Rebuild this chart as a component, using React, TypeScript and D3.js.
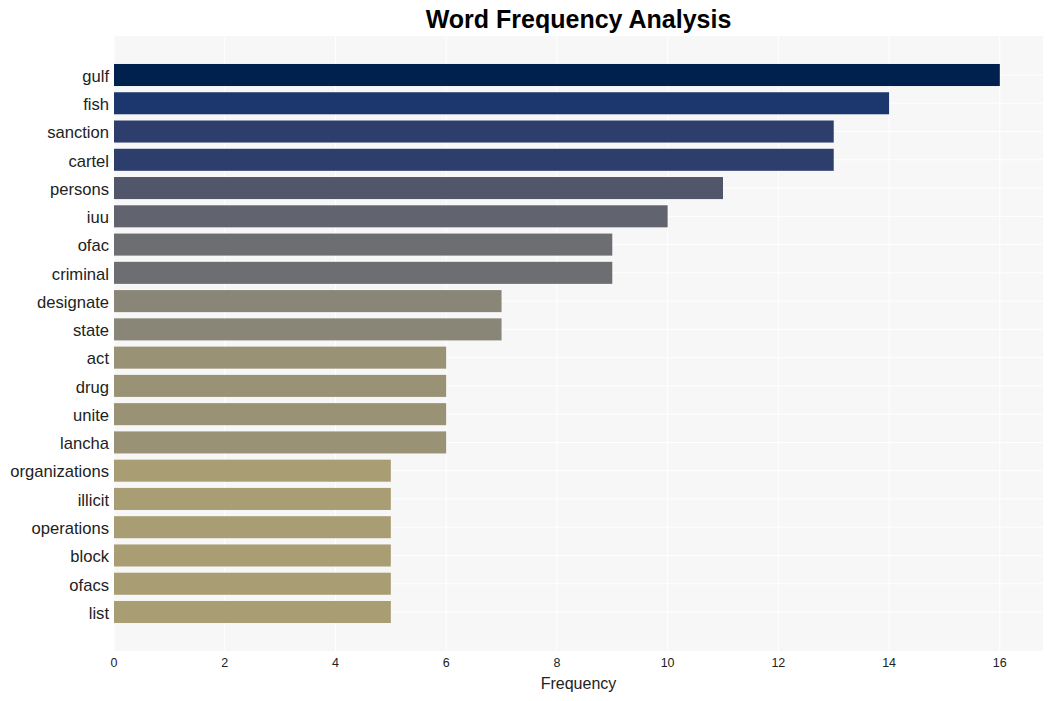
import React from "react";
import * as d3 from "d3";

const words = ["gulf","fish","sanction","cartel","persons","iuu","ofac","criminal","designate","state","act","drug","unite","lancha","organizations","illicit","operations","block","ofacs","list"];
const counts = [16,14,13,13,11,10,9,9,7,7,6,6,6,6,5,5,5,5,5,5];
const xTicks = [0,2,4,6,8,10,12,14,16];

const W = 1053, H = 701;
const M = { left: 114, right: 1043, top: 36, bottom: 651 };

export default function App() {
  const x = d3.scaleLinear().domain([0, 16.78]).range([M.left, M.right]);
  const y = d3.scaleLinear().domain([-1.38, 20.38]).range([M.top, M.bottom]);
  const step = y(1) - y(0);
  const bh = step * 0.78;
  const color = d3.scaleLinear<string>()
    .domain([5, 6, 7, 9, 10, 11, 13, 14, 16])
    .range(["#a89d73", "#9a9274", "#898677", "#6d6e71", "#61646e", "#52566a", "#2e3e6c", "#1b376d", "#00214e"]);
  const font = "Liberation Sans, Arial, sans-serif";
  return (
    <svg width={W} height={H} style={{ position: "absolute", left: 0, top: 0 }} fontFamily={font}>
      <rect x={0} y={0} width={W} height={H} fill="#ffffff" />
      <rect x={M.left} y={M.top} width={M.right - M.left} height={M.bottom - M.top} fill="#f7f7f7" />
      {xTicks.map(t => (
        <line key={"gx" + t} x1={x(t)} x2={x(t)} y1={M.top} y2={M.bottom} stroke="#ffffff" strokeWidth={1} />
      ))}
      {words.map((w, i) => (
        <line key={"gy" + w} x1={M.left} x2={M.right} y1={y(i)} y2={y(i)} stroke="#ffffff" strokeWidth={1} />
      ))}
      {words.map((w, i) => (
        <rect key={"b" + w} x={x(0)} y={y(i) - bh / 2} width={x(counts[i]) - x(0)} height={bh} fill={color(counts[i])} />
      ))}
      {words.map((w, i) => (
        <text key={"l" + w} x={M.left - 5} y={y(i) + 1} dy="0.35em" textAnchor="end" fontSize={16.6} fill="#222222">{w}</text>
      ))}
      {xTicks.map(t => (
        <text key={"tx" + t} x={x(t)} y={667} textAnchor="middle" fontSize={12.5} fill="#222222">{t}</text>
      ))}
      <text x={(M.left + M.right) / 2} y={689} textAnchor="middle" fontSize={16} fill="#222222">Frequency</text>
      <text x={(M.left + M.right) / 2} y={28} textAnchor="middle" fontSize={25} fontWeight="bold" fill="#000000">Word Frequency Analysis</text>
    </svg>
  );
}
